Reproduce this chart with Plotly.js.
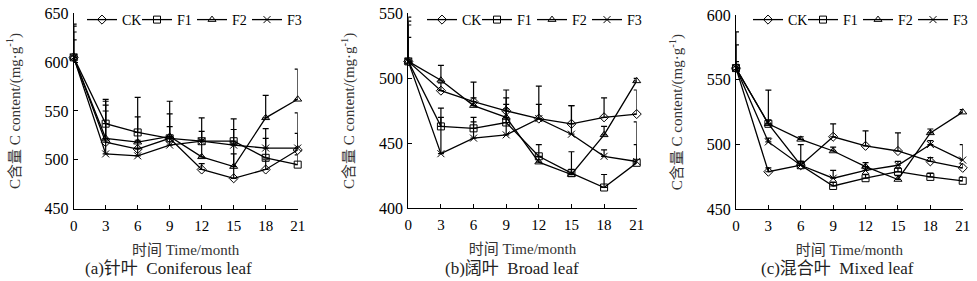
<!DOCTYPE html>
<html><head><meta charset="utf-8">
<script src="https://cdn.plot.ly/plotly-3.0.1.min.js"></script>
<style>html,body{margin:0;padding:0;background:#fff}#chart{width:977px;height:281px}</style>
</head><body><div id="chart"></div>
<script>
const months = [0, 3, 6, 9, 12, 15, 18, 21];
const seriesNames = ['CK', 'F1', 'F2', 'F3'];

// Panel (a) Coniferous leaf
const a_CK = [605, 518, 511, 522, 490, 481, 490, 510];
const a_F1 = [605, 537, 528, 522, 519, 519, 502, 495];
const a_F2 = [605, 522, 518, 524, 503, 493, 543, 562];
const a_F3 = [605, 506, 504, 515, 519, 515, 512, 512];
const a_CK_err = [34, 38, 9, 25, 6, 25, 10, 38];
const a_F1_err = [32, 25, 36, 12, 24, 23, 20, 10];
const a_F2_err = [26, 38, 26, 36, 18, 24, 23, 31];
const a_F3_err = [18, 44, 8, 7, 10, 16, 20, 15];

// Panel (b) Broad leaf
const b_CK = [513, 490.5, 482, 475, 469, 465, 470, 472.5];
const b_F1 = [513, 463, 461.5, 466, 440, 427, 416, 435];
const b_F2 = [513, 498.5, 479, 470, 435.5, 426, 456.5, 498];
const b_F3 = [513, 442, 454, 456.5, 469, 457, 440, 436];
const b_CK_err = [34, 6, 15, 5, 25, 14, 15, 18.5];
const b_F1_err = [31, 7, 5, 19, 9, 16.5, 10, 31.5];
const b_F2_err = [28, 11.5, 6, 21, 4, 4, 6.5, 2];
const b_F3_err = [18.5, 35, 16, 20, 11, 22, 5, 13];

// Panel (c) Mixed leaf
const c_CK = [559, 479, 484, 506, 499, 495, 487, 482];
const c_F1 = [559, 516, 484, 468, 474, 479, 475, 472];
const c_F2 = [559, 516, 504, 495, 483, 473, 509, 525];
const c_F3 = [559, 502, 484, 474, 480, 484, 500, 488];
const c_CK_err = [28, 3, 3, 10, 11.5, 14, 3, 3];
const c_F1_err = [18, 26, 16, 3, 3, 3, 3, 3];
const c_F2_err = [5, 3, 2, 3, 3, 3, 3, 2];
const c_F3_err = [3, 3, 3, 6, 3, 3, 3, 12];

const xTicks = [0, 3, 6, 9, 12, 15, 18, 21];
const yTicksA = [450, 500, 550, 600, 650];
const yTicksB = [400, 450, 500, 550];
const yTicksC = [450, 500, 550, 600];
const xTitle = '时间 Time/month';
const yTitle = 'C含量 C content/(mg·g<sup>-1</sup>)';
const captions = ['(a)针叶  Coniferous leaf', '(b)阔叶  Broad leaf', '(c)混合叶  Mixed leaf'];

const FONT = "'Liberation Serif', 'Noto Sans CJK SC', serif";
const symbols = ['diamond-open', 'square-open', 'triangle-up-open', 'x-thin-open'];

const panels = [
  {vals: [a_CK, a_F1, a_F2, a_F3], errs: [a_CK_err, a_F1_err, a_F2_err, a_F3_err], xa: 'x', ya: 'y', lg: 'legend'},
  {vals: [b_CK, b_F1, b_F2, b_F3], errs: [b_CK_err, b_F1_err, b_F2_err, b_F3_err], xa: 'x2', ya: 'y2', lg: 'legend2'},
  {vals: [c_CK, c_F1, c_F2, c_F3], errs: [c_CK_err, c_F1_err, c_F2_err, c_F3_err], xa: 'x3', ya: 'y3', lg: 'legend3'}
];

const traces = [];
panels.forEach(p => {
  seriesNames.forEach((name, i) => {
    traces.push({
      type: 'scatter', mode: 'lines+markers', name: name,
      x: months, y: p.vals[i], xaxis: p.xa, yaxis: p.ya, legend: p.lg,
      line: {color: '#000', width: 1.3},
      marker: {symbol: symbols[i], size: 7, color: '#000', line: {color: '#000', width: 1}},
      error_y: {type: 'data', symmetric: false, array: p.errs[i], arrayminus: months.map(() => 0),
                color: '#000', thickness: 1.2, width: 3},
      cliponaxis: false
    });
  });
});

function xAxis(domain, anchor) {
  return {domain: domain, anchor: anchor, range: [0, 21], tickvals: xTicks, ticks: 'inside', ticklen: 4,
    tickcolor: '#000', showline: true, linecolor: '#000', linewidth: 1, showgrid: false, zeroline: false,
    automargin: false, ticklabelstandoff: 3,
    tickfont: {family: FONT, size: 15, color: '#000'},
    title: {text: xTitle, font: {family: FONT, size: 15, color: '#333'}, standoff: 11}};
}
function yAxis(domain, anchor, range, ticks) {
  return {domain: domain, anchor: anchor, range: range, tickvals: ticks, ticks: 'inside', ticklen: 4,
    tickcolor: '#000', showline: true, linecolor: '#000', linewidth: 1, showgrid: false, zeroline: false,
    automargin: false, ticklabelstandoff: 1,
    tickfont: {family: FONT, size: 16, color: '#000'},
    title: {text: yTitle, font: {family: FONT, size: 15, color: '#333'}, standoff: 20}};
}
function legendAt(x) {
  return {orientation: 'h', x: x, xanchor: 'left', y: 1 - 4 / 281, yanchor: 'top', bgcolor: 'rgba(0,0,0,0)',
    font: {family: FONT, size: 14, color: '#000'}, itemwidth: 30, entrywidth: 10, entrywidthmode: 'pixels',
    tracegroupgap: 0, itemclick: false};
}

const layout = {
  width: 977, height: 281, margin: {l: 0, r: 0, t: 0, b: 0, autoexpand: false},
  paper_bgcolor: '#fff', plot_bgcolor: '#fff', showlegend: true,
  font: {family: FONT},
  xaxis: xAxis([0.0754, 0.3047], 'y'),
  yaxis: yAxis([0.258, 0.952], 'x', [450, 650], yTicksA),
  xaxis2: xAxis([0.4179, 0.6517], 'y2'),
  yaxis2: yAxis([0.2587, 0.9527], 'x2', [400, 550], yTicksB),
  xaxis3: xAxis([0.7533, 0.9854], 'y3'),
  yaxis3: yAxis([0.2552, 0.9466], 'x3', [450, 600], yTicksC),
  legend: legendAt(82 / 977),
  legend2: legendAt(422 / 977),
  legend3: legendAt(748 / 977),
  annotations: captions.map((c, i) => ({
    text: c, x: [168, 512, 837][i] / 977, y: 1 - 268 / 281, xref: 'paper', yref: 'paper',
    xanchor: 'center', yanchor: 'middle', showarrow: false, font: {family: FONT, size: 17, color: '#222'}
  }))
};

Plotly.newPlot('chart', traces, layout, {staticPlot: true, displayModeBar: false});
</script>
</body></html>
